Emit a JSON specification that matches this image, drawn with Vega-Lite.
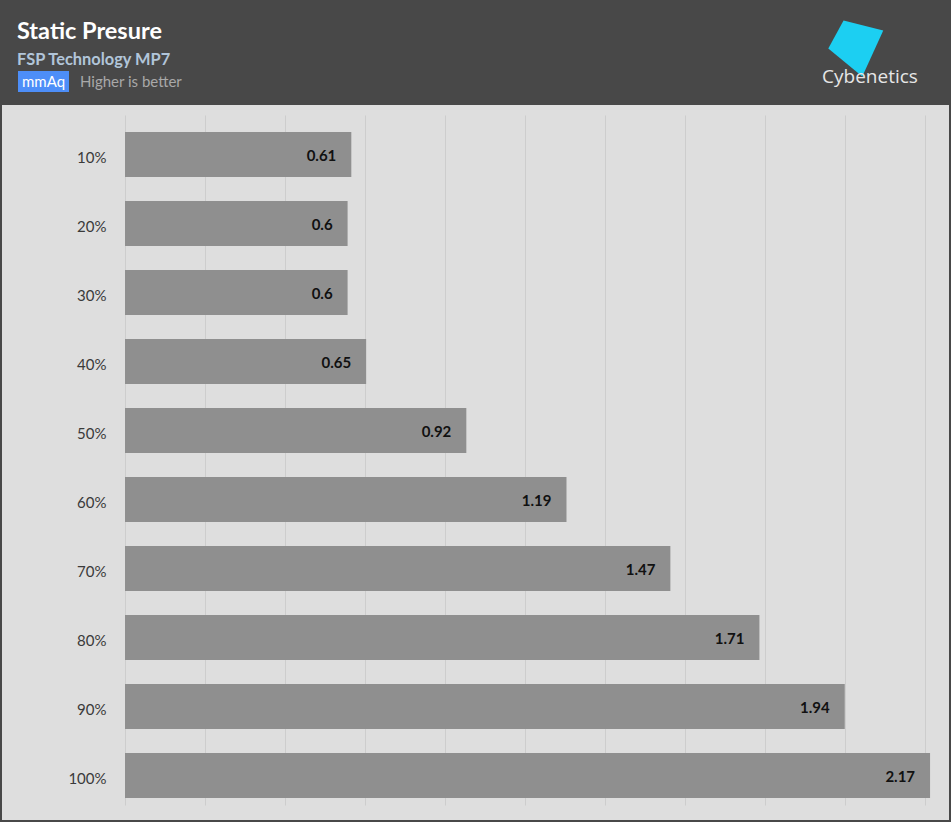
{
  "$schema": "https://vega.github.io/schema/vega-lite/v6.json",
  "width": 947,
  "height": 715,
  "autosize": {"type": "none"},
  "padding": {"left": 2, "top": 105, "right": 2, "bottom": 2},
  "background": "#484848",
  "config": {
    "view": {"fill": "#dedede", "stroke": null},
    "font": "Lato"
  },
  "title": {
    "text": "Static Presure",
    "subtitle": "FSP Technology MP7",
    "anchor": "start",
    "frame": "group",
    "dx": 15,
    "offset": -53,
    "font": "Lato",
    "fontSize": 23.5,
    "fontWeight": "bold",
    "color": "#ffffff",
    "subtitleFont": "Lato",
    "subtitleFontSize": 16.4,
    "subtitleFontWeight": "bold",
    "subtitleColor": "#b1c5d9",
    "subtitlePadding": 8
  },
  "data": {
    "values": [
      {"load": "10%", "pressure": 0.61, "unit": "mmAq", "brand": "Cybenetics"},
      {"load": "20%", "pressure": 0.6, "unit": "mmAq", "brand": "Cybenetics"},
      {"load": "30%", "pressure": 0.6, "unit": "mmAq", "brand": "Cybenetics"},
      {"load": "40%", "pressure": 0.65, "unit": "mmAq", "brand": "Cybenetics"},
      {"load": "50%", "pressure": 0.92, "unit": "mmAq", "brand": "Cybenetics"},
      {"load": "60%", "pressure": 1.19, "unit": "mmAq", "brand": "Cybenetics"},
      {"load": "70%", "pressure": 1.47, "unit": "mmAq", "brand": "Cybenetics"},
      {"load": "80%", "pressure": 1.71, "unit": "mmAq", "brand": "Cybenetics"},
      {"load": "90%", "pressure": 1.94, "unit": "mmAq", "brand": "Cybenetics"},
      {"load": "100%", "pressure": 2.17, "unit": "mmAq", "brand": "Cybenetics"}
    ]
  },
  "encoding": {
    "y": {
      "field": "load",
      "type": "nominal",
      "sort": null,
      "scale": {"range": [15, 705], "paddingInner": 0.3478, "paddingOuter": 0.1739},
      "axis": {
        "title": null,
        "domain": false,
        "ticks": false,
        "grid": false,
        "offset": -123,
        "labelPadding": 19,
        "labelOffset": 3,
        "labelFont": "Lato",
        "labelFontSize": 15,
        "labelColor": "#3a3a3a"
      }
    },
    "x": {
      "field": "pressure",
      "type": "quantitative",
      "scale": {"domain": [-0.331536, 2.221024], "nice": false, "zero": false},
      "axis": {
        "title": null,
        "labels": false,
        "ticks": false,
        "domain": false,
        "grid": true,
        "gridColor": "#cdcdcd",
        "gridWidth": 1,
        "values": [0, 0.21563, 0.43127, 0.6469, 0.86253, 1.07817, 1.2938, 1.50943, 1.72507, 1.9407, 2.15633]
      }
    }
  },
  "layer": [
    {
      "mark": {"type": "bar", "color": "#8f8f8f"}
    },
    {
      "mark": {"type": "text", "align": "right", "baseline": "middle", "dx": -15, "dy": 1, "font": "Lato", "fontSize": 15, "fontWeight": "bold", "color": "#111111"},
      "encoding": {
        "text": {"field": "pressure", "type": "nominal"}
      }
    },
    {
      "mark": {"type": "text"},
      "encoding": {
        "text": {"value": ""},
        "color": {
          "field": "unit",
          "type": "nominal",
          "scale": {"range": ["#4d8ef8"]},
          "legend": {
            "orient": "none",
            "legendX": 16,
            "legendY": -49,
            "padding": 0,
            "title": "Higher is better",
            "titleOrient": "right",
            "titleAnchor": "middle",
            "titleBaseline": "line-top",
            "titleLineHeight": 18,
            "titlePadding": 11,
            "titleColor": "#a9a9a9",
            "titleFont": "Lato",
            "titleFontSize": 15,
            "titleFontWeight": "normal",
            "symbolType": "M-1,-0.412H1V0.412H-1Z",
            "symbolSize": 2601,
            "symbolStrokeWidth": 0,
            "symbolOpacity": 1,
            "labelColor": "#ffffff",
            "labelFont": "Lato",
            "labelFontSize": 15,
            "labelOffset": -47
          }
        }
      }
    },
    {
      "mark": {"type": "text"},
      "encoding": {
        "text": {"value": ""},
        "color": {
          "field": "brand",
          "type": "nominal",
          "scale": {"range": ["#1ccff2"]},
          "legend": {
            "orient": "none",
            "legendX": 820,
            "legendY": -90,
            "padding": 0,
            "title": "Cybenetics",
            "titleOrient": "bottom",
            "titleAnchor": "middle",
            "titlePadding": -9,
            "titleColor": "#e6e6e6",
            "titleFont": "Open Sans",
            "titleFontSize": 19,
            "titleFontWeight": "normal",
            "symbolType": "M-0.873,-0.8L0.545,-0.45L-0.204,1.2L-1.418,0.2Z",
            "symbolSize": 3136,
            "symbolStrokeWidth": 0,
            "symbolOpacity": 1,
            "labelExpr": "''"
          }
        }
      }
    }
  ],
  "resolve": {"scale": {"color": "independent"}, "legend": {"color": "independent"}}
}
